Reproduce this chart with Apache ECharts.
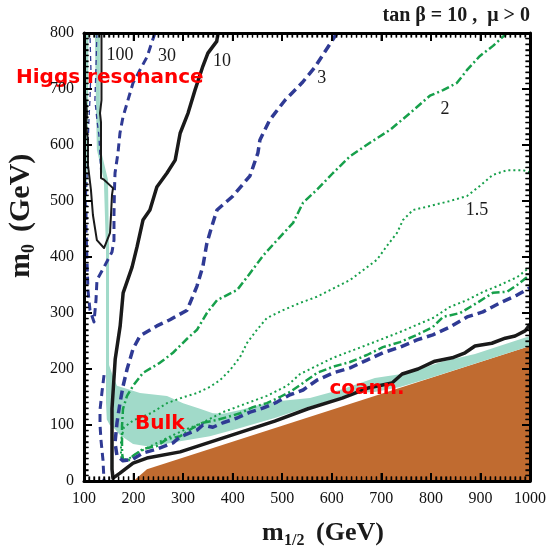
<!DOCTYPE html>
<html>
<head>
<meta charset="utf-8">
<script src="https://cdn.jsdelivr.net/npm/echarts@6/dist/echarts.min.js"></script>
<style>
  html, body { margin: 0; padding: 0; background: #fff; }
  #chart { width: 550px; height: 552px; }
</style>
</head>
<body>
<div id="chart"></div>
<script>
// m1/2 (GeV) on x, m0 (GeV) on y
var xRange = [100, 1000];
var yRange = [0, 800];
var majorStep = 100;
var minorStep = 10;

// Excluded region (charged LSP)
var brownRegion = [[200,0],[227,21],[1000,241],[1000,0]];

// WMAP-allowed regions
var tealHiggsLeft = [[100.5,470],[100.5,800],[109,800],[108,650],[106,540],[104,470]];
var tealHiggsRight = [[122,800],[124,680],[126,591],[140,538],[144.4,413],[144.4,270],[144.4,200],
  [150.5,200],[150.5,270],[150.5,413],[148.4,538],[134,591],[132,680],[132,800]];
var tealBulkCoann = [[144.4,230],[150.5,230],[150.5,207],[158.5,187],[166.6,170],[213,157],[267.5,152],
  [300,139],[334,129],[360,121],[380.5,120],[415,127],[455,136],[495.5,143],[556,148],[620.6,164],
  [687,184],[754,193],[822,213],[889,227],[1000,259],[1000,241],[899,212.5],[798,184],[737.7,168],
  [687,159],[647,157],[620.6,150],[552,132],[485,112.5],[415,94.6],[354,80],[294,71],[233,61],
  [199,66],[172.6,82],[160,95],[152,100],[146,110],[144.4,140]];

// Contour "10" (solid black)
var contour10 = [[370.4,800],[367.8,785],[350,764],[340,741],[324,698],[310,657],[294,621],[284,573],
  [267.5,550],[247,525],[233,484],[219,466],[207,418],[197,382],[179,336],[173,277],[163,218],
  [156.5,129],[156.5,21],[158.5,5],[172.6,14],[199,32],[227,41],[294,52],[485,107],[552,129],
  [621,148],[673,166],[721.5,175],[742,191],[774,200],[808,214],[843,220],[869,229],[889,241],
  [923,246],[950,255],[970,259],[990,268],[1000,280]];

// Contour "100" (thin black loop in the funnel)
var contour100 = [[101,725],[102,689],[106,657],[104,636],[108,609],[108,564],[114,520],[118,475],
  [126,430],[140.4,416],[152.5,443],[154.5,475],[156.5,511],[158.5,523],[140.4,538],[134.3,541],
  [134.3,591],[134.3,641],[132.3,657],[135.3,680],[135.3,800]];

// Contour "30" (dashed blue)
var contour30Upper = [[243.3,800],[227,757],[199,711],[178.7,650],[172.6,621.5],[168.6,586],[162.6,550],
  [161.5,520],[160.5,475],[160.5,430],[156.5,409],[140.4,382],[126.2,359],[124.2,323],[120.2,284],
  [112.1,305],[108,341],[106,395],[104,448],[104,493]];
var contour30Lower = [[140.4,189],[136.3,159],[132.3,127],[132.3,100],[134.3,73],[138.3,37.5],[140.4,0]];
var contour30ThinA = [[104,493],[106,538],[108,591],[110,645],[112,680],[114,734],[112,800]];
var contour30ThinB = [[126,800],[124,734],[122,680],[126,645],[130,618],[132,582],[134,547]];

// Contour "3" (dashed blue)
var contour3 = [[610.6,800],[592.4,775],[566,739],[540,711],[505.6,680],[485.4,657],[475,645],[455,609],
  [451,586],[435,545],[400.7,509],[368.4,484],[358,455],[348,425],[340,384],[328,348],[308,305],
  [273.5,288],[247,277],[213,259],[199,236],[187,200],[179,170],[172.6,139],[166.6,104],[162.6,68],
  [166.6,45],[178.7,36],[199,39],[219,50],[247,57],[279.6,68],[294,79],[328,91],[340,100],[360,96],
  [380.5,104],[409,112.5],[435,123],[461,130],[489.5,141],[515.7,154],[542,162.5],[570,180],
  [602.5,193],[637,202],[671,216],[703,229],[737.7,239],[772,252],[804,261],[838.6,275],[873,293],
  [905,302],[939.5,318],[974,332],[1000,345]];

// Contour "2" (dash-dot green)
var contour2 = [[953.6,800],[925.4,777],[899,759],[873,734],[852.7,711],[824.5,698],[798,688],[758,657],
  [717.5,627],[677,604],[637,580],[602.5,550],[570,520],[542,497],[522,461],[515.7,455],[489.5,430],
  [461,402],[435,371],[409,341],[388.6,332],[368.4,323],[348,300],[328,270],[308,254],[279.6,229],
  [253,211],[219,193],[199,170],[186.8,152],[178.7,129],[176.7,98],[176.7,50],[178.7,39],[188.8,36],
  [199,45],[219,57],[247,62.5],[267.5,75],[294,80],[320,95],[340,104],[368.4,109],[388.6,114],
  [415,121],[441,132],[469,139],[495.5,150],[515.7,159],[542,175],[570,193],[602.5,204],[637,212.5],
  [671,225],[703,239],[737.7,248],[772,261],[804,275],[824.5,293],[859,300],[893,318],[925,336],
  [953.6,338],[974,350],[1000,368]];

// Contour "1.5" (dotted green)
var contour15 = [[1000,551],[986,555],[953.6,555],[925,546.5],[899,527],[873,509],[838.6,500],[798,491],
  [764,484],[743.7,466],[731.6,443],[711.5,420],[691,395],[637,359],[570,329],[536,318],[501.6,305],
  [469,291],[449,270],[429,246.5],[415,221.5],[394.6,198],[374.4,180],[354,168],[328,157],[301.8,150],
  [267.5,139],[235,121],[201,109],[180.7,96],[174.7,73],[174.7,43],[186.8,37.5],[207,50],[235,62.5],
  [267.5,76.8],[301.8,91],[334,102],[380.5,123],[429,139],[469,152],[509.7,170],[536,191],[602.5,220],
  [671,243],[737.7,266],[804,291],[838.6,311],[873,323],[905,337.5],[939.5,350],[974,364],[1000,382]];

// Contour value labels
var contourLabels = [[172.6,760,'100'],[267.5,759,'30'],[378.5,750,'10'],[580,720,'3'],[828.5,664,'2'],[893,484,'1.5']];
// Region labels
var regionLabels = [[152,720,'Higgs resonance'],[253,102,'Bulk'],[671,164,'coann.']];

var TEAL = '#a1dac9';
var BROWN = '#c06b30';
var NAVY = '#2f3a94';
var GREEN = '#17a04b';

function polygonSeries(points, color, z) {
  return {
    type: 'custom',
    coordinateSystem: 'cartesian2d',
    clip: true,
    silent: true,
    z: z,
    data: [points[0]],
    renderItem: function (params, api) {
      return {
        type: 'polygon',
        shape: { points: points.map(function (p) { return api.coord(p); }) },
        style: { fill: color, stroke: null }
      };
    }
  };
}

function lineSeries(points, color, width, dash, z) {
  return {
    type: 'line',
    data: points,
    symbol: 'none',
    showSymbol: false,
    clip: true,
    silent: true,
    z: z || 5,
    lineStyle: { color: color, width: width, type: dash, cap: 'butt', join: 'round' }
  };
}

function labelSeries(points, font, z) {
  return {
    type: 'scatter',
    symbolSize: 0,
    silent: true,
    clip: false,
    z: z,
    itemStyle: { opacity: 1 },
    data: points,
    label: Object.assign({
      show: true, position: 'inside', opacity: 1,
      formatter: function (p) { return p.data[2]; }
    }, font)
  };
}

function makeAxis(position, range, showLabel) {
  return {
    type: 'value',
    position: position,
    min: range[0],
    max: range[1],
    interval: majorStep,
    z: 20,
    axisLine: { show: true, onZero: false, lineStyle: { color: '#000', width: 3 } },
    axisTick: { show: true, inside: true, length: 8, lineStyle: { color: '#000', width: 2 } },
    minorTick: { show: true, splitNumber: 10, length: 4.5, lineStyle: { color: '#000', width: 1.4 } },
    splitLine: { show: false },
    axisLabel: {
      show: showLabel,
      margin: 10,
      fontFamily: 'Liberation Serif',
      fontSize: 16,
      color: '#111',
      formatter: function (v) { return String(v); }
    }
  };
}

var titleGraphics = [
  {
    type: 'text', right: 20, top: 6,
    style: { text: 'tan β = 10 ,  μ > 0', font: 'bold 20px "Liberation Serif"', fill: '#1a1a1a' }
  },
  {
    type: 'group', x: 262, y: 533,
    children: [
      { type: 'text', x: 0, y: 0, style: { text: 'm', font: 'bold 26px "Liberation Serif"', fill: '#1a1a1a', verticalAlign: 'middle' } },
      { type: 'text', x: 22, y: 8, style: { text: '1/2', font: 'bold 16px "Liberation Serif"', fill: '#1a1a1a', verticalAlign: 'middle' } },
      { type: 'text', x: 54, y: 0, style: { text: '(GeV)', font: 'bold 26px "Liberation Serif"', fill: '#1a1a1a', verticalAlign: 'middle' } }
    ]
  },
  {
    type: 'group', x: 21, y: 278, rotation: Math.PI / 2,
    children: [
      { type: 'text', x: 0, y: 0, style: { text: 'm', font: 'bold 30px "Liberation Serif"', fill: '#1a1a1a', verticalAlign: 'middle' } },
      { type: 'text', x: 25, y: 8, style: { text: '0', font: 'bold 18px "Liberation Serif"', fill: '#1a1a1a', verticalAlign: 'middle' } },
      { type: 'text', x: 46, y: 0, style: { text: '(GeV)', font: 'bold 30px "Liberation Serif"', fill: '#1a1a1a', verticalAlign: 'middle' } }
    ]
  }
];

var option = {
  animation: false,
  backgroundColor: '#fff',
  grid: { left: 84, right: 20, top: 33, bottom: 71 },
  xAxis: [
    makeAxis('bottom', xRange, true),
    makeAxis('top', xRange, false)
  ],
  yAxis: [
    makeAxis('left', yRange, true),
    makeAxis('right', yRange, false)
  ],
  series: [
    polygonSeries(brownRegion, BROWN, 1),
    polygonSeries(tealHiggsLeft, TEAL, 2),
    polygonSeries(tealHiggsRight, TEAL, 2),
    polygonSeries(tealBulkCoann, TEAL, 2),
    lineSeries(contour15, GREEN, 2, [2, 3], 5),
    lineSeries(contour2, GREEN, 2.5, [8, 3, 2, 3], 6),
    lineSeries(contour3, NAVY, 3.5, [9, 5], 7),
    lineSeries(contour30Upper, NAVY, 3, [8, 5], 7),
    lineSeries(contour30Lower, NAVY, 3, [8, 5], 7),
    lineSeries(contour30ThinA, NAVY, 1.3, [5, 4], 7),
    lineSeries(contour30ThinB, NAVY, 1.3, [5, 4], 7),
    lineSeries(contour100, '#1a1a1a', 2, 'solid', 8),
    lineSeries(contour10, '#1a1a1a', 3.5, 'solid', 9),
    labelSeries(contourLabels, { fontFamily: 'Liberation Serif', fontSize: 18, color: '#1a1a1a' }, 10),
    labelSeries(regionLabels, { fontFamily: 'DejaVu Sans', fontWeight: 'bold', fontSize: 20, color: '#ff0000' }, 11)
  ],
  graphic: titleGraphics
};

var chart = echarts.init(document.getElementById('chart'), null, { renderer: 'canvas' });
chart.setOption(option);

// Inward tick marks on the four frame sides, as thin filled rectangles whose
// positions come from the chart's own axis scales.
(function addTicks() {
  var finder = { xAxisIndex: 0, yAxisIndex: 0 };
  function isMajor(v) { return Math.round(v) % majorStep === 0; }
  var ticks = [];
  function rect(x, y, w, h) {
    ticks.push({ type: 'rect', z: 100, silent: true,
      shape: { x: x, y: y, width: w, height: h }, style: { fill: '#000' } });
  }
  var v, p, q, len, w;
  for (v = xRange[0]; v <= xRange[1] + 1e-9; v += minorStep) {
    len = isMajor(v) ? 8 : 4.5; w = isMajor(v) ? 1.6 : 1.1;
    p = chart.convertToPixel(finder, [v, yRange[0]]);
    q = chart.convertToPixel(finder, [v, yRange[1]]);
    rect(p[0] - w / 2, p[1] - len, w, len);
    rect(q[0] - w / 2, q[1], w, len);
  }
  for (v = yRange[0]; v <= yRange[1] + 1e-9; v += minorStep) {
    len = isMajor(v) ? 8 : 4.5; w = isMajor(v) ? 1.6 : 1.1;
    p = chart.convertToPixel(finder, [xRange[0], v]);
    q = chart.convertToPixel(finder, [xRange[1], v]);
    rect(p[0], p[1] - w / 2, len, w);
    rect(q[0] - len, q[1] - w / 2, len, w);
  }
  chart.setOption({ graphic: titleGraphics.concat(ticks) });
})();
</script>
</body>
</html>
